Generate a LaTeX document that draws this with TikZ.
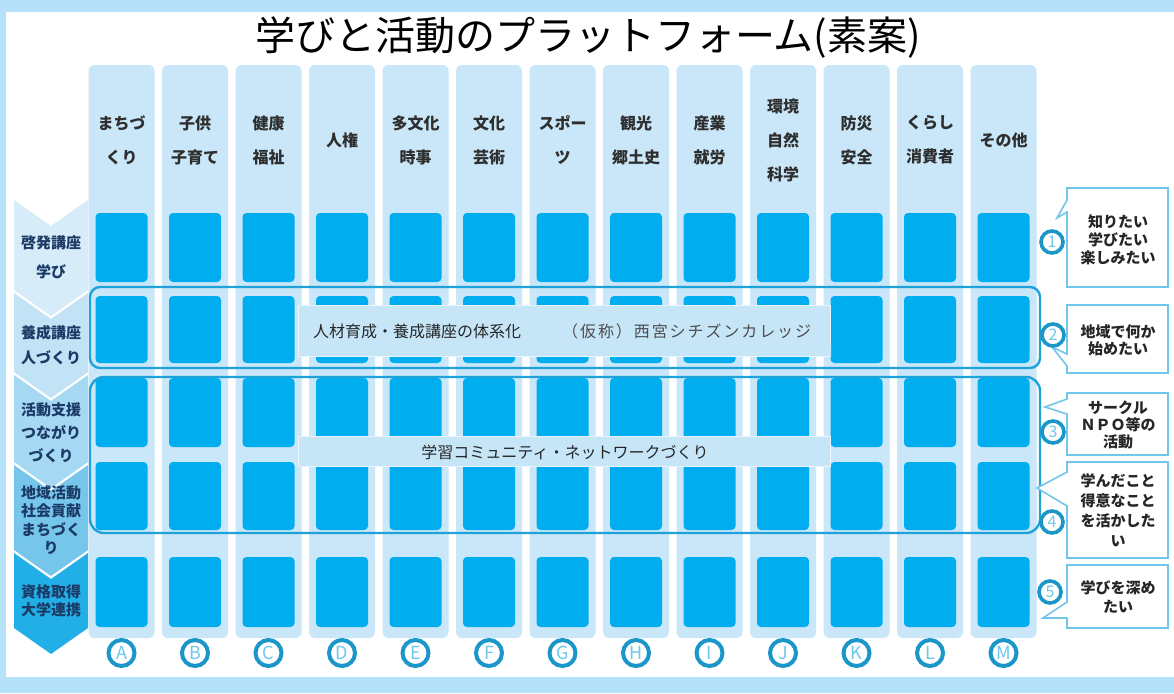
\documentclass[tikz,border=0pt]{standalone}
\usepackage{fontspec}
\newfontfamily\jp{Noto Sans CJK JP}
\definecolor{framec}{HTML}{B5E2F8}
\definecolor{stripc}{HTML}{C9E7F8}
\definecolor{cellc}{HTML}{00AEEF}
\definecolor{bandc}{HTML}{1FA2D9}
\definecolor{navy}{HTML}{1B3A66}
\definecolor{segA}{HTML}{D6EDF9}
\definecolor{segB}{HTML}{C2E3F6}
\definecolor{segC}{HTML}{A5D8F3}
\definecolor{segD}{HTML}{76C6EC}
\definecolor{segE}{HTML}{22AFE7}
\definecolor{calloutc}{HTML}{72C5EB}
\definecolor{circc}{HTML}{1A96C8}
\definecolor{circtext}{HTML}{6FC7EC}
\definecolor{bannerc}{HTML}{C6E6F8}
\definecolor{hdrtext}{HTML}{2E2E2E}
\tikzset{
  colstrip/.style={fill=stripc, rounded corners=6pt, minimum width=66pt, minimum height=573pt, inner sep=0pt},
  cellbox/.style={fill=cellc, rounded corners=4pt, minimum width=52pt, inner sep=0pt},
  hdr/.style={align=center, text=hdrtext, font=\jp\bfseries\fontsize{16}{34}\selectfont, inner sep=0pt},
  letcirc/.style={circle, draw=circc, line width=4pt, minimum size=26pt, inner sep=0pt, text=circtext, font=\jp\fontsize{18}{18}\selectfont},
  numcirc/.style={circle, draw=circc, fill=white, line width=3.6pt, minimum size=22pt, inner sep=0pt, text=circtext, font=\jp\fontsize{16}{16}\selectfont},
  seglabel/.style={align=center, text=navy, inner sep=0pt},
  bandbox/.style={draw=bandc, line width=2.4pt, inner sep=0pt},
  bannerbox/.style={fill=bannerc, draw=white!60!bannerc, line width=0.8pt, inner sep=0pt},
  callbox/.style={draw=calloutc, fill=white, line width=1.6pt, line join=miter},
  calltext/.style={align=center, text=black!85, inner sep=0pt},
}
\begin{document}
\begin{tikzpicture}[x=1pt,y=-1pt]
\useasboundingbox (0,0) rectangle (1174,693);
\fill[framec] (0,0) rectangle (1174,693);
\fill[white] (6,12) rectangle (1174,677);
\node[font=\jp\fontsize{40}{44}\selectfont, inner sep=0pt] (title) at (588,38) {学びと活動のプラットフォーム(素案)};
% columns
\foreach \i/\lab/\txt in {0/A/{まちづ\\くり},1/B/{子供\\子育て},2/C/{健康\\福祉},3/D/{人権},4/E/{多文化\\時事},5/F/{文化\\芸術},6/G/{スポー\\ツ},7/H/{観光\\郷土史},8/I/{産業\\就労},9/J/{環境\\自然\\科学},10/K/{防災\\安全},11/L/{くらし\\消費者},12/M/{その他}}{
  \pgfmathsetmacro\cx{121.5+73.5*\i}
  \node[colstrip] (col\lab) at (\cx,351.5) {};
  \node[hdr] (hd\lab) at (\cx,140) {\txt};
  \foreach \r/\yc/\hh in {1/247.5/69, 2/329.5/67, 3/412.5/69, 4/496/68, 5/592/70}{
    \node[cellbox, minimum height=\hh pt] (c\lab\r) at (\cx,\yc) {};
  }
  \node[letcirc] (let\lab) at (\cx,653) {\lab};
}
% left chevrons
\foreach \t/\b/\col in {200/290/segA, 293/372/segB, 375/462/segC, 465/550/segD, 553/628/segE}{
  \fill[\col] (14,\t) -- (51,{\t+26}) -- (88,\t) -- (88,\b) -- (51,{\b+26}) -- (14,\b) -- cycle;
}
\node[seglabel, font=\jp\bfseries\fontsize{15}{29}\selectfont] (s1) at (51,257) {啓発講座\\学び};
\node[seglabel, font=\jp\bfseries\fontsize{15}{25}\selectfont] (s2) at (51,345) {養成講座\\人づくり};
\node[seglabel, font=\jp\bfseries\fontsize{15}{23}\selectfont] (s3) at (51,433) {活動支援\\つながり\\づくり};
\node[seglabel, font=\jp\bfseries\fontsize{15}{18.3}\selectfont] (s4) at (51,520) {地域活動\\社会貢献\\まちづく\\り};
\node[seglabel, font=\jp\bfseries\fontsize{15}{18}\selectfont] (s5) at (51,601) {資格取得\\大学連携};
% banners
\node[bannerbox, minimum width=532pt, minimum height=51pt] (ban1) at (564,330.5) {};
\fill[bannerc] (814,355) -- (831,343) -- (831,356) -- cycle;
\node[anchor=west, inner sep=0pt, text=black!85, font=\jp\fontsize{16}{16}\selectfont] (ban1a) at (313,331) {人材育成・養成講座の体系化};
\node[anchor=west, inner sep=0pt, text=black!70, font=\jp\fontsize{16}{16}\selectfont\addfontfeature{LetterSpace=12}] (ban1b) at (562,331) {（仮称）西宮シチズンカレッジ};
\node[bannerbox, minimum width=532pt, minimum height=30pt] (ban2) at (564,451) {};
\node[inner sep=0pt, text=black!85, font=\jp\fontsize{16}{16}\selectfont] (ban2t) at (565,452) {学習コミュニティ・ネットワークづくり};
% bands
\node[bandbox, rounded corners=10pt, minimum width=950pt, minimum height=81pt] (band1) at (565,327.5) {};
\node[bandbox, rounded corners=14pt, minimum width=950pt, minimum height=156pt] (band2) at (565,455) {};
% callouts
\draw[callbox] (1067,188) -- (1168,188) -- (1168,287) -- (1067,287) -- (1067,212) -- (1057,218) -- (1067,200) -- cycle;
\draw[callbox] (1067,305) -- (1168,305) -- (1168,373) -- (1067,373) -- (1067,366) -- (1052,347) -- (1067,354) -- cycle;
\draw[callbox] (1067,393) -- (1168,393) -- (1168,455) -- (1067,455) -- (1067,414) -- (1045,407) -- (1067,399) -- cycle;
\draw[callbox] (1067,462) -- (1168,462) -- (1168,558) -- (1067,558) -- (1067,506) -- (1037,488) -- (1067,472) -- cycle;
\draw[callbox] (1067,565) -- (1168,565) -- (1168,628) -- (1067,628) -- (1067,618) -- (1043,618) -- (1067,602) -- cycle;
\node[calltext, font=\jp\bfseries\fontsize{15}{18}\selectfont] (q1) at (1118,240) {知りたい\\学びたい\\楽しみたい};
\node[calltext, font=\jp\bfseries\fontsize{15}{17}\selectfont] (q2) at (1118,340) {地域で何か\\始めたい};
\node[calltext, font=\jp\bfseries\fontsize{15}{17}\selectfont] (q3) at (1118,425) {サークル\\ＮＰＯ等の\\活動};
\node[calltext, font=\jp\bfseries\fontsize{15}{20}\selectfont] (q4) at (1118,510) {学んだこと\\得意なこと\\を活かした\\い};
\node[calltext, font=\jp\bfseries\fontsize{15}{19}\selectfont] (q5) at (1118,597) {学びを深め\\たい};
% number circles
\node[numcirc] (n1) at (1052,242) {1};
\node[numcirc] (n2) at (1053,335) {2};
\node[numcirc] (n3) at (1053,432) {3};
\node[numcirc] (n4) at (1052,522) {4};
\node[numcirc] (n5) at (1050,592) {5};
\end{tikzpicture}
\end{document}
